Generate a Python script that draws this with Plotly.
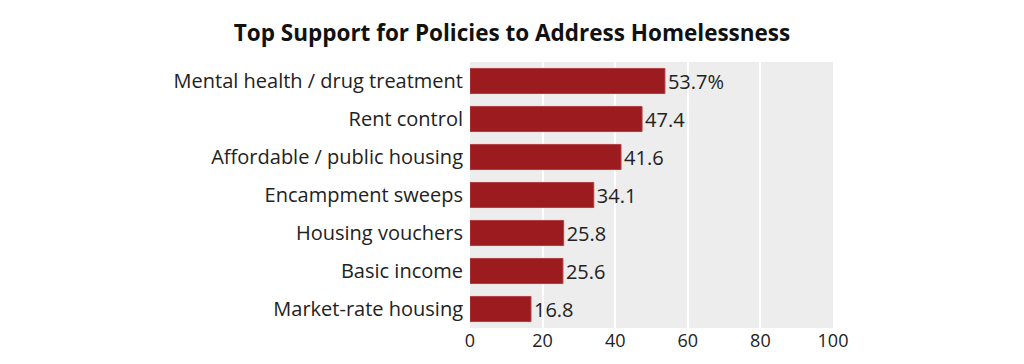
import plotly.graph_objects as go

categories = ["Mental health / drug treatment", "Rent control", "Affordable / public housing",
              "Encampment sweeps", "Housing vouchers", "Basic income", "Market-rate housing"]
values = [53.7, 47.4, 41.6, 34.1, 25.8, 25.6, 16.8]
value_labels = ["53.7%", "47.4", "41.6", "34.1", "25.8", "25.6", "16.8"]
tick_vals = [0, 20, 40, 60, 80, 100]

fig = go.Figure(go.Bar(
    x=values, y=categories, orientation="h",
    marker=dict(color="#9b1b1f", line=dict(color="#b04045", width=1)),
    width=0.66,
    text=value_labels, textposition="outside", constraintext="none",
    textfont=dict(family="Open Sans", size=20, color="#222"),
    cliponaxis=False,
))

fig.update_layout(
    width=1024, height=364,
    margin=dict(l=462, r=199, t=54, b=44, autoexpand=False),
    paper_bgcolor="white", plot_bgcolor="#ededed",
    title=dict(text="<b>Top Support for Policies to Address Homelessness</b>",
               x=504 / 1024, xanchor="center", y=0.931, yanchor="middle",
               font=dict(family="Open Sans", size=22.5, color="#111")),
    font=dict(family="Open Sans", size=20, color="#222"),
    showlegend=False,
)
fig.update_xaxes(range=[0, 100], tickvals=tick_vals, showgrid=True, gridcolor="white",
                 gridwidth=1.5, zeroline=False, ticks="", automargin=False,
                 tickfont=dict(size=18, color="#222"))
fig.update_yaxes(autorange="reversed", ticks="", ticklabelstandoff=6, automargin=False,
                 tickfont=dict(size=20, color="#222"))

fig.write_html("out.html")
